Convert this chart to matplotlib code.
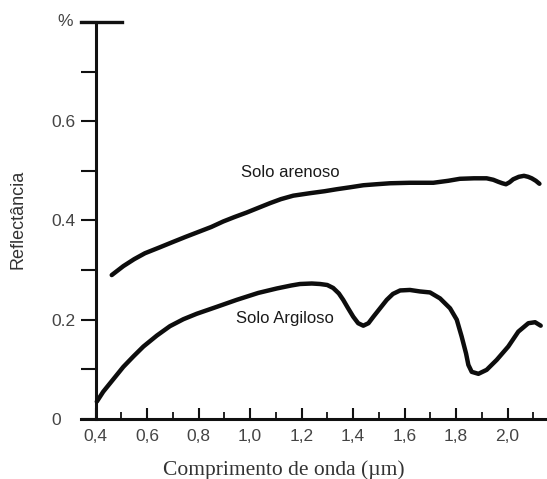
import matplotlib
matplotlib.use("Agg")
import matplotlib.pyplot as plt
from matplotlib.ticker import FixedLocator

# Spectral reflectance curves (wavelength in µm, reflectance as fraction)
sandy_wl = [0.463, 0.508, 0.550, 0.592, 0.650, 0.702, 0.750, 0.795, 0.850,
            0.896, 0.940, 0.987, 1.030, 1.078, 1.120, 1.168, 1.233, 1.290,
            1.337, 1.390, 1.440, 1.490, 1.544, 1.621, 1.712, 1.770, 1.815,
            1.870, 1.919, 1.945, 1.964, 1.980, 1.994, 2.008, 2.022, 2.044,
            2.064, 2.080, 2.094, 2.110, 2.124]
sandy_refl = [0.290, 0.308, 0.322, 0.334, 0.346, 0.357, 0.367, 0.376, 0.387,
              0.398, 0.407, 0.416, 0.425, 0.435, 0.443, 0.450, 0.455, 0.459,
              0.463, 0.467, 0.471, 0.473, 0.475, 0.476, 0.476, 0.480, 0.484,
              0.485, 0.485, 0.482, 0.478, 0.475, 0.473, 0.477, 0.483, 0.488,
              0.490, 0.488, 0.485, 0.480, 0.474]

clay_wl = [0.405, 0.430, 0.469, 0.508, 0.547, 0.586, 0.638, 0.689, 0.741,
           0.793, 0.871, 0.948, 1.032, 1.104, 1.160, 1.194, 1.240, 1.272,
           1.300, 1.323, 1.345, 1.362, 1.380, 1.401, 1.420, 1.440, 1.460,
           1.479, 1.505, 1.531, 1.555, 1.583, 1.621, 1.660, 1.699, 1.738,
           1.777, 1.803, 1.822, 1.839, 1.848, 1.861, 1.887, 1.919, 1.958,
           2.003, 2.042, 2.081, 2.107, 2.129]
clay_refl = [0.035, 0.055, 0.080, 0.105, 0.126, 0.146, 0.168, 0.187, 0.201,
             0.212, 0.226, 0.240, 0.254, 0.263, 0.269, 0.272, 0.273, 0.272,
             0.270, 0.264, 0.253, 0.240, 0.224, 0.206, 0.193, 0.188, 0.193,
             0.206, 0.223, 0.240, 0.252, 0.259, 0.260, 0.257, 0.255, 0.243,
             0.223, 0.200, 0.166, 0.132, 0.109, 0.095, 0.091, 0.099, 0.119,
             0.146, 0.176, 0.193, 0.195, 0.188]

x_major = [0.4, 0.6, 0.8, 1.0, 1.2, 1.4, 1.6, 1.8, 2.0]
x_labels = ["0,4", "0,6", "0,8", "1,0", "1,2", "1,4", "1,6", "1,8", "2,0"]
y_major = [0.0, 0.2, 0.4, 0.6]
y_labels = ["0", "0.2", "0.4", "0.6"]

sans = ["Liberation Sans", "DejaVu Sans"]
serif = ["Liberation Serif", "DejaVu Serif"]
tick_color = "#444444"
ink = "#111111"

fig = plt.figure(figsize=(5.47, 4.79), dpi=100)
ax = fig.add_axes([0.1481, 0.1253, 0.8519, 0.8288])
ax.set_xlim(0.3437, 2.1534)
ax.set_ylim(0, 0.8)

for side in ("top", "right", "left"):
    ax.spines[side].set_visible(False)
ax.spines["bottom"].set_linewidth(2.2)
ax.spines["bottom"].set_color(ink)

# vertical axis line at the start of the spectrum, with the top cap bar
ax.axvline(0.4, ymin=0, ymax=1, color=ink, lw=2.2, clip_on=False)
ax.axhline(0.8, xmin=0, xmax=0.0886, color=ink, lw=2.4, clip_on=False)

# x ticks point into the plot
ax.xaxis.set_major_locator(FixedLocator(x_major))
ax.set_xticklabels(x_labels)
ax.xaxis.set_minor_locator(FixedLocator([0.5, 0.7, 0.9, 1.1, 1.3, 1.5, 1.7, 1.9, 2.1]))
ax.tick_params(axis="x", which="major", direction="in", length=8, width=1.5,
               color=ink, pad=7, labelsize=12.5, labelcolor=tick_color)
ax.tick_params(axis="x", which="minor", direction="in", length=5, width=1.3,
               color=ink)

# y ticks run from the frame edge to the axis line
ax.yaxis.set_major_locator(FixedLocator(y_major + [0.8]))
ax.yaxis.set_minor_locator(FixedLocator([0.1, 0.3, 0.5, 0.7]))
ax.set_yticklabels(y_labels + [""])
ax.tick_params(axis="y", which="both", direction="in", length=10.4, width=1.5,
               color=ink, pad=21.6, labelsize=12.5, labelcolor=tick_color)
for lbl in ax.get_yticklabels():
    lbl.set_horizontalalignment("left")
    lbl.set_fontfamily(sans)
for lbl in ax.get_xticklabels():
    lbl.set_fontfamily(sans)

ax.text(-0.0349, 1.0, "%", transform=ax.transAxes, ha="center", va="center",
        fontsize=12.5, color=tick_color, family=sans)

# reflectance curves
ax.plot(sandy_wl, sandy_refl, color="#0d0d0d", lw=3.2,
        solid_joinstyle="round", solid_capstyle="round")
ax.plot(clay_wl, clay_refl, color="#0d0d0d", lw=3.2,
        solid_joinstyle="round", solid_capstyle="round")

ax.text(0.964, 0.496, "Solo arenoso", ha="left", va="center",
        fontsize=12, color="#1a1a1a", family=sans)
ax.text(0.946, 0.203, "Solo Argiloso", ha="left", va="center",
        fontsize=12, color="#1a1a1a", family=sans)

fig.text(18.5 / 547, (479 - 219) / 479, "Reflectância", rotation=90,
         ha="center", va="center", fontsize=13, color="#333333", family=sans)
fig.text(284 / 547, (479 - 475) / 479, "Comprimento de onda (µm)",
         ha="center", va="baseline", fontsize=15.5, color="#333333", family=serif)

fig.savefig("out.png", dpi=100, facecolor="white")
